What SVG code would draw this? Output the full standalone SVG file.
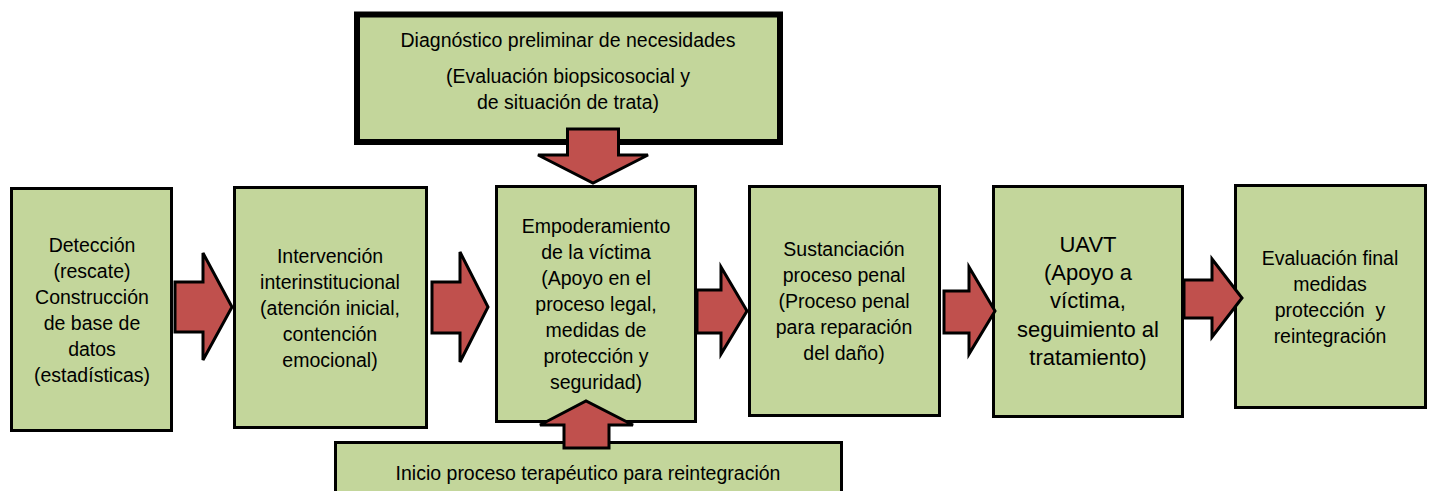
<svg xmlns="http://www.w3.org/2000/svg" width="1431" height="491" viewBox="0 0 1431 491">
<style>
.box{fill:#C3D69B;stroke:#000;stroke-width:3}
.thick{stroke-width:6}
.arr{fill:#C0504D;stroke:#000;stroke-width:3;stroke-linejoin:miter}
text{font-family:"Liberation Sans",Arial,sans-serif;font-size:19.5px;fill:#000;text-anchor:middle}
.big{font-size:22px}
</style>
<rect width="1431" height="491" fill="#fff"/>
<g id="n-diagnostico">
<rect class="box thick" x="357" y="14.5" width="423" height="127.5"/>
<text x="568" y="47">Diagnóstico preliminar de necesidades</text>
<text x="568" y="83">(Evaluación biopsicosocial y</text>
<text x="568" y="109">de situación de trata)</text>
</g>
<g id="n-deteccion">
<rect class="box" x="11.5" y="188.5" width="160" height="242"/>
<text x="92" y="252">Detección</text>
<text x="92" y="278">(rescate)</text>
<text x="92" y="304">Construcción</text>
<text x="92" y="330">de base de</text>
<text x="92" y="356">datos</text>
<text x="92" y="382">(estadísticas)</text>
</g>
<g id="n-intervencion">
<rect class="box" x="234.5" y="187.5" width="192" height="240"/>
<text x="330" y="263">Intervención</text>
<text x="330" y="289">interinstitucional</text>
<text x="330" y="315">(atención inicial,</text>
<text x="330" y="341">contención</text>
<text x="330" y="367">emocional)</text>
</g>
<g id="n-empoderamiento">
<rect class="box" x="496.5" y="186.5" width="199" height="235"/>
<text x="596" y="233">Empoderamiento</text>
<text x="596" y="259">de la víctima</text>
<text x="596" y="285">(Apoyo en el</text>
<text x="596" y="311">proceso legal,</text>
<text x="596" y="337">medidas de</text>
<text x="596" y="363">protección y</text>
<text x="596" y="389">seguridad)</text>
</g>
<g id="n-sustanciacion">
<rect class="box" x="749.5" y="186.5" width="190" height="229"/>
<text x="844" y="256">Sustanciación</text>
<text x="844" y="282">proceso penal</text>
<text x="844" y="308">(Proceso penal</text>
<text x="844" y="334">para reparación</text>
<text x="844" y="360">del daño)</text>
</g>
<g id="n-uavt">
<rect class="box" x="993.5" y="186.5" width="189" height="230"/>
<text class="big" x="1088" y="252">UAVT</text>
<text class="big" x="1088" y="280">(Apoyo a</text>
<text class="big" x="1088" y="308">víctima,</text>
<text class="big" x="1088" y="337">seguimiento al</text>
<text class="big" x="1088" y="365">tratamiento)</text>
</g>
<g id="n-evaluacion">
<rect class="box" x="1235.5" y="185.5" width="190" height="222"/>
<text x="1330" y="265">Evaluación final</text>
<text x="1330" y="291">medidas</text>
<text x="1330" y="317" xml:space="preserve">protección  y</text>
<text x="1330" y="343">reintegración</text>
</g>
<g id="n-inicio">
<rect class="box" x="335.5" y="442.5" width="506" height="60"/>
<text x="588" y="480">Inicio proceso terapéutico para reintegración</text>
</g>
<g id="connectors">
<polygon class="arr" points="567.5,129 618.5,129 618.5,155 648,155 593,183 538,155 567.5,155"/>
<polygon class="arr" points="564,448 609,448 609,425 633,425 586,401 540,425 564,425"/>
<polygon class="arr" points="175,282 203,282 203,253 232,307 203,360 203,332 175,332"/>
<polygon class="arr" points="432,282 460,282 460,252 488,307 460,362 460,333 432,333"/>
<polygon class="arr" points="697,290 721,290 721,267 747,311 721,354 721,333 697,333"/>
<polygon class="arr" points="944,291 969,291 969,267 995,311 969,354 969,333 944,333"/>
<polygon class="arr" points="1184,280 1212,280 1212,259 1242,298 1212,337 1212,318 1184,318"/>
</g>
</svg>
